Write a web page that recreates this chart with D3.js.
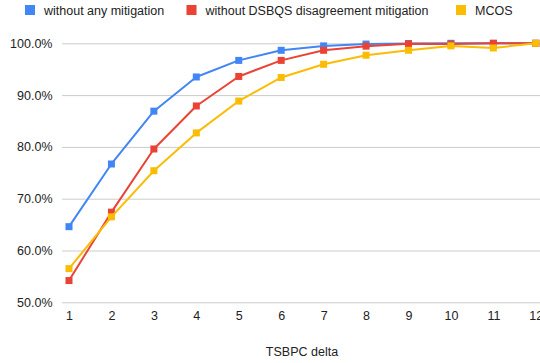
<!DOCTYPE html>
<html>
<head>
<meta charset="utf-8">
<script src="https://cdn.jsdelivr.net/npm/d3@7"></script>
<style>
  body { margin: 0; background: #fff; overflow: hidden; }
  svg { display: block; font-family: "Liberation Sans", Arial, sans-serif; }
</style>
</head>
<body>
<div id="chart"></div>
<script>
// chart data
var deltas = [1, 2, 3, 4, 5, 6, 7, 8, 9, 10, 11, 12];
var noMitigation = [64.6, 76.7, 86.9, 93.5, 96.7, 98.65, 99.5, 99.85, 99.95, 100, 100, 100];
var noDsbqs = [54.2, 67.4, 79.6, 87.9, 93.6, 96.7, 98.65, 99.45, 99.9, 99.85, 100, 100];
var mcos = [56.5, 66.5, 75.4, 82.7, 88.85, 93.4, 95.95, 97.7, 98.65, 99.5, 99.1, 100];
var seriesNames = ["without any mitigation", "without DSBQS disagreement mitigation", "MCOS"];
var yTicks = [50, 60, 70, 80, 90, 100];

function draw_chart() {
  var width = 540, height = 363;
  var colors = ["#4285f4", "#ea4335", "#fbbc04"];
  var series = [noMitigation, noDsbqs, mcos];

  var svg = d3.select("div#chart")
    .append("svg")
    .attr("width", width)
    .attr("height", height);

  var x = d3.scaleLinear().domain([1, 12]).range([69, 535.8]);
  var y = d3.scaleLinear().domain([50, 100]).range([302.3, 43.3]);

  // grid + y labels
  var yAxis = d3.axisLeft(y)
    .tickValues(yTicks)
    .tickSize(-(width - 62))
    .tickPadding(9)
    .tickFormat(d => d.toFixed(1) + "%");
  var gy = svg.append("g")
    .attr("transform", "translate(62,0)")
    .call(yAxis);
  gy.select(".domain").remove();
  gy.selectAll(".tick line").attr("stroke", "#cccccc").attr("stroke-width", 1);
  gy.selectAll(".tick text")
    .attr("fill", "#222")
    .attr("font-size", 12.5)
    .attr("x", -9.5);

  var xAxis = d3.axisBottom(x)
    .tickValues(deltas)
    .tickSize(0)
    .tickPadding(9)
    .tickFormat(d3.format("d"));
  var gx = svg.append("g")
    .attr("transform", "translate(0,302.3)")
    .call(xAxis);
  gx.select(".domain").remove();
  gx.selectAll(".tick text")
    .attr("fill", "#222")
    .attr("font-size", 12.5);

  svg.append("text")
    .attr("x", 302)
    .attr("y", 356)
    .attr("text-anchor", "middle")
    .attr("fill", "#222")
    .attr("font-size", 12.5)
    .text("TSBPC delta");

  var line = d3.line()
    .x((d, i) => x(deltas[i]))
    .y(d => y(d));

  series.forEach(function (vals, k) {
    svg.append("path")
      .datum(vals)
      .attr("fill", "none")
      .attr("stroke", colors[k])
      .attr("stroke-width", 2)
      .attr("stroke-linejoin", "round")
      .attr("d", line);
    svg.append("g")
      .selectAll("rect")
      .data(vals)
      .join("rect")
      .attr("x", (d, i) => x(deltas[i]) - 3.5)
      .attr("y", d => y(d) - 3.5)
      .attr("width", 7)
      .attr("height", 7)
      .attr("fill", colors[k]);
  });

  // legend
  var legendX = [25, 186.5, 456];
  var legend = svg.append("g")
    .selectAll("g")
    .data(seriesNames)
    .join("g")
    .attr("transform", (d, i) => `translate(${legendX[i]},5)`);
  legend.append("rect")
    .attr("width", 10)
    .attr("height", 10)
    .attr("fill", (d, i) => colors[i]);
  legend.append("text")
    .attr("x", 19)
    .attr("y", 9.5)
    .attr("fill", "#222")
    .attr("font-size", 12.5)
    .text(d => d);
}
draw_chart();
</script>
</body>
</html>
